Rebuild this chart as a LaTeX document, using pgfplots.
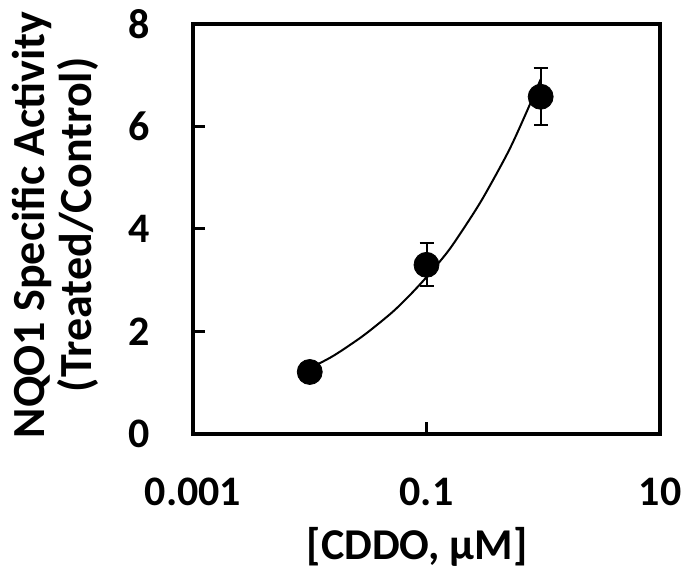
\documentclass[border=0pt]{standalone}
\usepackage{fontspec}
\setmainfont{Carlito}
\usepackage{pgfplots}
\pgfplotsset{compat=1.18}
\begin{document}
\begin{tikzpicture}
\begin{axis}[
  scale only axis,
  width=233.5bp, height=205bp,
  xmode=log,
  xmin=0.001, xmax=10,
  ymin=0, ymax=8,
  xtick={0.001,0.1,10},
  xticklabels={0.001,0.1,10},
  ytick={0,2,4,6,8},
  yticklabels={0,2,4,6,8},
  minor xtick={}, minor ytick={},
  tick pos=left,
  tick align=inside,
  major tick length=6bp,
  every tick/.style={black, line width=1.5bp},
  axis line style={line width=2bp},
  font=\fontsize{21bp}{24bp}\selectfont\bfseries,
  yticklabel style={inner sep=0pt, anchor=east, xshift=-21.5bp},
  xticklabel style={inner sep=0pt, anchor=north, yshift=-22bp},
  xlabel={[CDDO, µM]},
  xlabel style={font=\fontsize{22bp}{24bp}\selectfont\bfseries, at={(axis description cs:0.48,0)}, anchor=north, inner sep=0pt, yshift=-46.5bp},
  ylabel={NQO1 Specific Activity\\(Treated/Control)},
  ylabel style={font=\fontsize{23bp}{23.5bp}\selectfont\bfseries, align=center, at={(axis description cs:0,0.51)}, anchor=south, inner sep=0pt, yshift=47bp},
  clip=false,
]
% fitted curve
\addplot[black, line width=1bp, smooth, no markers] coordinates {
  (0.01,1.28) (0.015,1.49) (0.02,1.67) (0.03,1.95) (0.05,2.36) (0.07,2.68)
  (0.1,3.06) (0.15,3.54) (0.2,3.95) (0.3,4.58) (0.5,5.50) (0.7,6.22) (0.95,6.92)
};
% data with error bars
\addplot[only marks, mark=*, mark size=6.25bp, black,
  error bars/.cd, y dir=both, y explicit,
  error bar style={line width=1bp, black},
  error mark options={rotate=90, mark size=3.5bp, line width=1bp, black}]
  coordinates {
  (0.01,1.21) +- (0,0.1)
  (0.1,3.30) +- (0,0.42)
  (0.95,6.58) +- (0,0.56)
};
\path (rel axis cs:-0.4133,-0.3415) rectangle (rel axis cs:1.0471,1.0585);
\end{axis}
\end{tikzpicture}
\end{document}
